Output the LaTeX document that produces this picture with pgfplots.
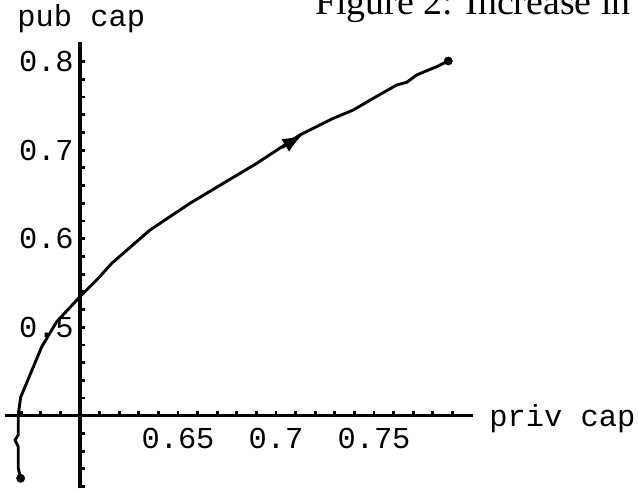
\documentclass[border=0pt]{standalone}
\usepackage{pgfplots}
\pgfplotsset{compat=1.18}
\usepackage{fontspec}
\setmainfont{Liberation Serif}
\newfontfamily\cour{Liberation Mono}
\usetikzlibrary{arrows.meta}
\begin{document}
\begin{tikzpicture}
\useasboundingbox (0,0) rectangle (638bp,493bp);
\clip (0,0) rectangle (638bp,493bp);
\begin{axis}[at={(0,0)},anchor=south west,scale only axis,width=638bp,height=493bp,
 xmin=0.55918,xmax=0.88469,ymin=0.31266,ymax=0.86972,
 axis lines=none, clip=false, ticks=none]
% tick labels and axis labels
\pgfplotsinvokeforeach{0.5,0.6,0.7,0.8}{\node[anchor=east,inner sep=0pt,font=\cour\fontsize{30.5}{30}\selectfont] at (axis cs:0.5969,#1) {#1};}
\pgfplotsinvokeforeach{0.65,0.7,0.75}{\node[anchor=north,inner sep=0pt,font=\cour\fontsize{30.5}{30}\selectfont] at (axis cs:#1,0.3858) {#1};}
\node[anchor=base west,inner sep=0pt,font=\cour\fontsize{30.5}{30}\selectfont] at (axis cs:0.5680,0.8395) {pub cap};
\node[anchor=base west,inner sep=0pt,font=\cour\fontsize{30.5}{30}\selectfont] at (axis cs:0.8088,0.3876) {priv cap};
\node[anchor=base west,inner sep=0pt,font=\fontsize{38}{38}\selectfont] at (axis cs:0.7199,0.8528) {Figure 2: Increase in};
% axes
\draw[line width=3.2bp] (axis cs:0.5617,0.4) -- (axis cs:0.8005,0.4);
\draw[line width=3.2bp] (axis cs:0.6,0.318) -- (axis cs:0.6,0.822);
\pgfplotsinvokeforeach{0.57,0.58,0.59,0.61,0.62,0.63,0.64,0.65,0.66,0.67,0.68,0.69,0.70,0.71,0.72,0.73,0.74,0.75,0.76,0.77,0.78,0.79}{\draw[line width=2.8bp] (axis cs:#1,0.4) -- ([yshift=5bp]axis cs:#1,0.4);}
\pgfplotsinvokeforeach{0.32,0.34,0.36,0.38,0.42,0.44,0.46,0.48,0.50,0.52,0.54,0.56,0.58,0.60,0.62,0.64,0.66,0.68,0.70,0.72,0.74,0.76,0.78,0.80}{\draw[line width=2.8bp] (axis cs:0.6,#1) -- ([xshift=5bp]axis cs:0.6,#1);}
% curve
\addplot[black, line width=2.9bp, line join=round, line cap=round] coordinates {
(0.5697,0.3293) (0.5685,0.3406) (0.5685,0.3650) (0.5668,0.3725) (0.5685,0.3782)
(0.5685,0.4008) (0.5697,0.4208) (0.5805,0.4780) (0.5881,0.5062) (0.6000,0.5345)
(0.6085,0.5533) (0.6162,0.5722) (0.6357,0.6098) (0.6561,0.6400) (0.6731,0.6626)
(0.6902,0.6852) (0.7122,0.7172) (0.7292,0.7360) (0.7394,0.7454) (0.7496,0.7586)
(0.7616,0.7737) (0.7667,0.7767) (0.7718,0.7850) (0.7769,0.7898) (0.7820,0.7944)
(0.7879,0.8008)};
\addplot[only marks, mark=*, mark size=4.2bp, black] coordinates {(0.5697,0.3293) (0.7879,0.8008)};
\addplot[black, line width=2.9bp, -{Latex[length=20bp,width=15bp]}] coordinates {(0.7030,0.7030) (0.7135,0.7172)};
\end{axis}
\end{tikzpicture}
\end{document}
